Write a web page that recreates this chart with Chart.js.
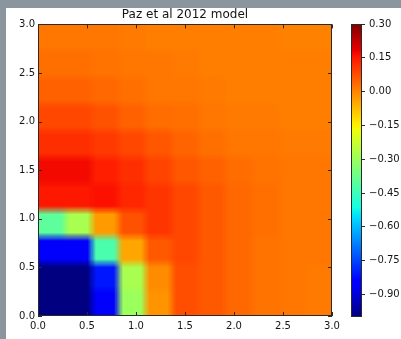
<!DOCTYPE html>
<html>
<head>
<meta charset="utf-8">
<script src="https://cdn.jsdelivr.net/npm/chart.js@4.4.0/dist/chart.umd.min.js"></script>
<style>
  html, body { margin: 0; padding: 0; }
  body { width: 401px; height: 339px; background: #8b959d; position: relative; overflow: hidden; }
  #panel { position: absolute; left: 6px; top: 8px; width: 395px; height: 331px; background: #fff; }
  #main { position: absolute; left: 0; top: 0; }
  #cbar { position: absolute; left: 340px; top: 0; }
</style>
</head>
<body>
<div id="panel"></div>
<canvas id="main" width="345" height="339"></canvas>
<canvas id="cbar" width="61" height="339"></canvas>
<script>
// model grid (cell centres), 11 x 11 over [0, 3] x [0, 3]
const gridX = [0.136, 0.409, 0.682, 0.955, 1.227, 1.5, 1.773, 2.045, 2.318, 2.591, 2.864];
const gridY = [0.136, 0.409, 0.682, 0.955, 1.227, 1.5, 1.773, 2.045, 2.318, 2.591, 2.864];

// values per row, top row (y = 2.86) first
const row10 = [0.02, 0.02, 0.02, 0.015, 0.01, 0.01, 0.01, 0.01, 0.01, 0.005, 0.005];
const row9  = [0.03, 0.03, 0.025, 0.02, 0.02, 0.015, 0.01, 0.01, 0.01, 0.01, 0.01];
const row8  = [0.05, 0.05, 0.04, 0.03, 0.02, 0.02, 0.015, 0.01, 0.01, 0.01, 0.01];
const row7  = [0.085, 0.085, 0.07, 0.05, 0.035, 0.03, 0.02, 0.015, 0.015, 0.01, 0.01];
const row6  = [0.12, 0.12, 0.105, 0.085, 0.065, 0.045, 0.03, 0.02, 0.02, 0.015, 0.015];
const row5  = [0.17, 0.17, 0.14, 0.12, 0.09, 0.065, 0.05, 0.035, 0.025, 0.02, 0.02];
const row4  = [0.15, 0.15, 0.16, 0.13, 0.11, 0.085, 0.06, 0.04, 0.03, 0.02, 0.02];
const row3  = [-0.40, -0.28, -0.03, 0.07, 0.11, 0.085, 0.06, 0.04, 0.03, 0.02, 0.02];
const row2  = [-0.86, -0.86, -0.43, -0.045, 0.06, 0.085, 0.06, 0.04, 0.025, 0.02, 0.02];
const row1  = [-1.0, -1.0, -0.81, -0.28, -0.01, 0.075, 0.06, 0.04, 0.025, 0.02, 0.015];
const row0  = [-1.0, -1.0, -0.86, -0.30, -0.02, 0.075, 0.06, 0.04, 0.025, 0.02, 0.015];
const rows = [row0, row1, row2, row3, row4, row5, row6, row7, row8, row9, row10];

const axisTicks = [0, 0.5, 1.0, 1.5, 2.0, 2.5, 3.0];
const cbarTicks = [-0.90, -0.75, -0.60, -0.45, -0.30, -0.15, 0.00, 0.15, 0.30];
const vmin = -1.0, vmax = 0.3;

const FONT = 'DejaVu Sans';
const INK = '#151515';

// matplotlib "jet"
const jetR = [[0, 0], [0.35, 0], [0.66, 1], [0.89, 1], [1, 0.5]];
const jetG = [[0, 0], [0.125, 0], [0.375, 1], [0.64, 1], [0.91, 0], [1, 0]];
const jetB = [[0, 0.5], [0.11, 1], [0.34, 1], [0.65, 0], [1, 0]];
function seg(pts, t) {
  for (let i = 1; i < pts.length; i++) {
    if (t <= pts[i][0]) {
      const [x0, y0] = pts[i - 1], [x1, y1] = pts[i];
      return y0 + (y1 - y0) * (t - x0) / (x1 - x0);
    }
  }
  return pts[pts.length - 1][1];
}
function jet(v) {
  const t = Math.min(1, Math.max(0, (v - vmin) / (vmax - vmin)));
  const r = Math.round(255 * seg(jetR, t));
  const g = Math.round(255 * seg(jetG, t));
  const b = Math.round(255 * seg(jetB, t));
  return `rgb(${r},${g},${b})`;
}

const cells = [];
rows.forEach((row, j) => row.forEach((v, i) => cells.push({ x: gridX[i], y: gridY[j], v, i, j })));

function fmt(v) {
  const s = Math.abs(v).toFixed(2);
  return v < -1e-9 ? '\u2212' + s : s;
}

// paints the grid as an image, then frame + inward ticks on all four sides
const heatmapPlugin = {
  id: 'heatmap',
  beforeDatasetsDraw(chart) {
    const { ctx, scales: { x, y } } = chart;
    const k = 3;
    const nx = gridX.length, ny = gridY.length;
    const off = document.createElement('canvas');
    off.width = nx * k;
    off.height = ny * k;
    const octx = off.getContext('2d');
    chart.data.datasets[0].data.forEach(p => {
      octx.fillStyle = jet(p.v);
      octx.fillRect(p.i * k, (ny - 1 - p.j) * k, k, k);
    });
    const left = x.getPixelForValue(0), right = x.getPixelForValue(3);
    const top = y.getPixelForValue(3), bottom = y.getPixelForValue(0);
    ctx.save();
    ctx.imageSmoothingEnabled = true;
    ctx.imageSmoothingQuality = 'low';
    ctx.drawImage(off, left, top, right - left, bottom - top);
    ctx.restore();
  },
  afterDatasetsDraw(chart) {
    const { ctx, chartArea: a, scales: { x, y } } = chart;
    ctx.save();
    ctx.strokeStyle = '#2a2a2a';
    ctx.lineWidth = 1;
    ctx.strokeRect(Math.round(a.left) + 0.5, Math.round(a.top) + 0.5,
                   Math.round(a.right - a.left) - 1, Math.round(a.bottom - a.top) - 1);
    ctx.beginPath();
    axisTicks.forEach(t => {
      const px = Math.round(x.getPixelForValue(t)) + 0.5;
      ctx.moveTo(px, a.bottom); ctx.lineTo(px, a.bottom - 4);
      ctx.moveTo(px, a.top); ctx.lineTo(px, a.top + 4);
      const py = Math.round(y.getPixelForValue(t)) + 0.5;
      ctx.moveTo(a.left, py); ctx.lineTo(a.left + 4, py);
      ctx.moveTo(a.right, py); ctx.lineTo(a.right - 4, py);
    });
    ctx.stroke();
    ctx.restore();
  }
};

const tickFont = { family: FONT, size: 10 };

new Chart(document.getElementById('main'), {
  type: 'scatter',
  data: { datasets: [{ data: cells, pointRadius: 0, pointHoverRadius: 0 }] },
  options: {
    responsive: false,
    animation: false,
    events: [],
    layout: { padding: { top: 6, right: 13, bottom: 0, left: 0 } },
    plugins: {
      legend: { display: false },
      tooltip: { enabled: false },
      title: {
        display: true,
        fullSize: false,
        text: 'Paz et al 2012 model',
        color: INK,
        font: { family: FONT, size: 12, weight: 'normal' },
        padding: { top: 2, bottom: 2 }
      }
    },
    scales: {
      x: {
        type: 'linear', min: 0, max: 3,
        grid: { display: false, drawTicks: false }, border: { display: false },
        afterBuildTicks: s => { s.ticks = axisTicks.map(v => ({ value: v })); },
        ticks: { color: INK, font: tickFont, padding: 4, maxRotation: 0, callback: v => v.toFixed(1) },
        afterFit: s => { s.height = 23; }
      },
      y: {
        type: 'linear', min: 0, max: 3,
        grid: { display: false, drawTicks: false }, border: { display: false },
        afterBuildTicks: s => { s.ticks = axisTicks.map(v => ({ value: v })); },
        ticks: { color: INK, font: tickFont, padding: 3, callback: v => v.toFixed(1) },
        afterFit: s => { s.width = 38; }
      }
    }
  },
  plugins: [heatmapPlugin]
});

// colour bar: one strip per pixel row, value taken from the scale
const colorbarPlugin = {
  id: 'colorbar',
  beforeDatasetsDraw(chart) {
    const { ctx, chartArea: a, scales: { y } } = chart;
    ctx.save();
    for (let py = Math.floor(a.top); py < Math.ceil(a.bottom); py++) {
      ctx.fillStyle = jet(y.getValueForPixel(py + 0.5));
      ctx.fillRect(a.left, py, a.right - a.left, 1);
    }
    ctx.strokeStyle = '#2a2a2a';
    ctx.lineWidth = 1;
    ctx.strokeRect(Math.round(a.left) + 0.5, Math.round(a.top) + 0.5,
                   Math.round(a.right - a.left) - 1, Math.round(a.bottom - a.top) - 1);
    ctx.restore();
  }
};

new Chart(document.getElementById('cbar'), {
  type: 'scatter',
  data: { datasets: [] },
  options: {
    responsive: false,
    animation: false,
    events: [],
    layout: { padding: { top: 24, right: 0, bottom: 22, left: 11 } },
    plugins: { legend: { display: false }, tooltip: { enabled: false } },
    scales: {
      x: { display: false, min: 0, max: 1 },
      y: {
        position: 'right', min: vmin, max: vmax,
        afterBuildTicks: s => { s.ticks = cbarTicks.map(v => ({ value: v })); },
        ticks: { color: INK, font: tickFont, padding: 4, callback: v => fmt(v) },
        grid: { drawOnChartArea: false, drawTicks: true, tickLength: 3, color: '#2a2a2a' },
        border: { display: false },
        afterFit: s => { s.width = 39; }
      }
    }
  },
  plugins: [colorbarPlugin]
});
</script>
</body>
</html>
